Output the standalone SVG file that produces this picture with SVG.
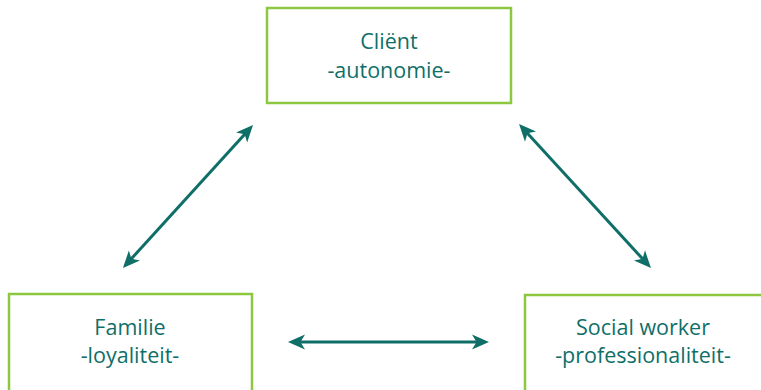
<svg xmlns="http://www.w3.org/2000/svg" width="761" height="390" viewBox="0 0 761 390">
  <style>
    .box { fill: #ffffff; stroke: #8dc63f; stroke-width: 2.5; }
    .label { font-family: "Open Sans", "Noto Sans", sans-serif; font-size: 21.5px; fill: #0f6f68; text-anchor: middle; }
    .link { stroke: #0f6f68; stroke-width: 3; fill: none; marker-start: url(#head); marker-end: url(#head); }
  </style>
  <defs>
    <marker id="head" viewBox="-18 -8 19 16" refX="-10" refY="0" markerWidth="19" markerHeight="16" markerUnits="userSpaceOnUse" orient="auto-start-reverse">
      <path d="M0,0 L-17,-7.5 L-12.5,0 L-17,7.5 Z" fill="#0f6f68"/>
    </marker>
  </defs>
  <rect width="761" height="390" fill="#ffffff"/>

  <g id="client">
    <rect class="box" x="267" y="8" width="244" height="95"/>
    <text class="label" x="389" y="49">Cliënt</text>
    <text class="label" x="389" y="78">-autonomie-</text>
  </g>

  <g id="familie">
    <rect class="box" x="9" y="294" width="243" height="100"/>
    <text class="label" x="130" y="335">Familie</text>
    <text class="label" x="130" y="363">-loyaliteit-</text>
  </g>

  <g id="social-worker">
    <rect class="box" x="525" y="295" width="250" height="100"/>
    <text class="label" x="643" y="335">Social worker</text>
    <text class="label" x="643" y="363">-professionaliteit-</text>
  </g>

  <g id="connectors">
    <line class="link" x1="129.7" y1="260.6" x2="246.3" y2="132.4"/>
    <line class="link" x1="525.8" y1="131.4" x2="644.2" y2="260.6"/>
    <line class="link" x1="298" y1="342" x2="479" y2="342"/>
  </g>
</svg>
